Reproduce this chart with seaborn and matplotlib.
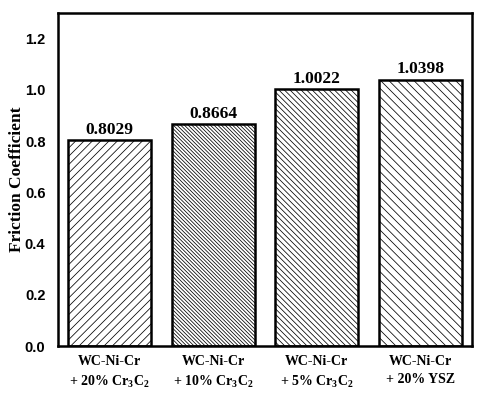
import matplotlib
matplotlib.use("Agg")
import matplotlib.pyplot as plt
import numpy as np
import pandas as pd
import seaborn as sns

# data
categories = ["WC-Ni-Cr\n+ 20% Cr$_\\mathrm{3}$C$_\\mathrm{2}$",
              "WC-Ni-Cr\n+ 10% Cr$_\\mathrm{3}$C$_\\mathrm{2}$",
              "WC-Ni-Cr\n+ 5% Cr$_\\mathrm{3}$C$_\\mathrm{2}$",
              "WC-Ni-Cr\n+ 20% YSZ"]
friction = [0.8029, 0.8664, 1.0022, 1.0398]
value_labels = ["0.8029", "0.8664", "1.0022", "1.0398"]
hatches = ["////", "\\" * 9, "\\" * 6, "\\" * 4]
y_ticks = [0.0, 0.2, 0.4, 0.6, 0.8, 1.0, 1.2]

sns.set_style("white")
plt.rcParams["mathtext.fontset"] = "custom"
plt.rcParams["mathtext.rm"] = "Liberation Serif:bold"
plt.rcParams["mathtext.it"] = "Liberation Serif:bold"
plt.rcParams["mathtext.bf"] = "Liberation Serif:bold"
plt.rcParams["hatch.linewidth"] = 0.55
plt.rcParams["text.color"] = "black"
plt.rcParams["axes.labelcolor"] = "black"
plt.rcParams["xtick.color"] = "black"
plt.rcParams["ytick.color"] = "black"

df = pd.DataFrame({"sample": categories, "cof": friction})

fig = plt.figure(figsize=(4.97, 3.97), dpi=100)
ax = fig.add_axes([0.1167, 0.128, 0.8333, 0.839])

sns.barplot(data=df, x="sample", y="cof", color="white", width=0.8,
            edgecolor="black", linewidth=1.8, ax=ax)

for bar, h in zip(ax.patches, hatches):
    bar.set_hatch(h)
    bar.set_facecolor("white")

ax.set_xlim(-0.5, 3.5)
ax.set_ylim(0, 1.3)
ax.set_yticks(y_ticks)
ax.set_yticklabels([f"{t:.1f}" for t in y_ticks],
                   family="Liberation Sans", weight="bold", fontsize=10.5)
ax.set_xticks(range(len(categories)))
ax.set_xticklabels(categories, family="Liberation Serif", weight="bold",
                   fontsize=10, linespacing=1.55)
ax.tick_params(axis="both", length=0)
ax.tick_params(axis="y", pad=9)
ax.tick_params(axis="x", pad=6)

for i, (v, lab) in enumerate(zip(friction, value_labels)):
    ax.text(i, v + 0.01, lab, ha="center", va="bottom",
            family="Liberation Serif", weight="bold", fontsize=12.5)

ax.set_xlabel("")
ax.set_ylabel("Friction Coefficient", family="Liberation Serif",
              weight="bold", fontsize=12.5, labelpad=0)

for s in ax.spines.values():
    s.set_linewidth(1.8)
    s.set_color("black")

fig.savefig("out.png", dpi=100)
